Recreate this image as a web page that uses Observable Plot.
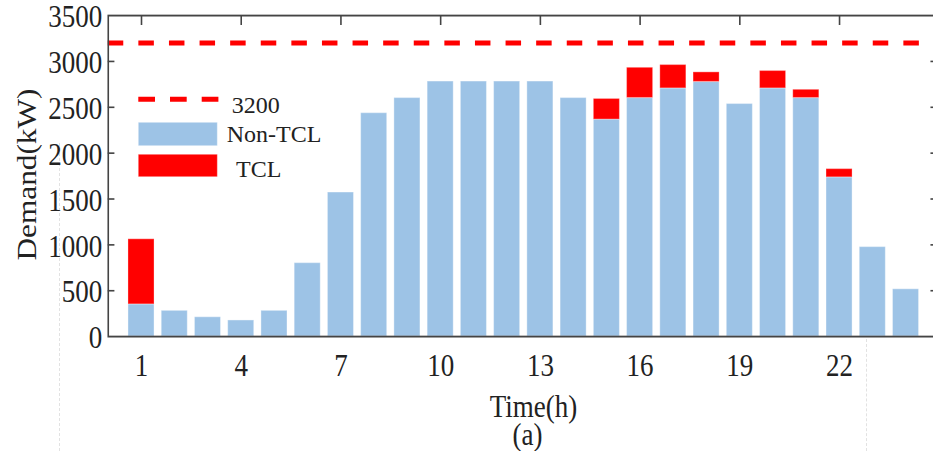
<!DOCTYPE html>
<html>
<head>
<meta charset="utf-8">
<script src="https://cdn.jsdelivr.net/npm/d3@7"></script>
<script src="https://cdn.jsdelivr.net/npm/@observablehq/plot@0.6"></script>
<style>
  html, body { margin: 0; padding: 0; background: #fff; overflow: hidden; }
  #wrap { position: relative; width: 933px; height: 451px; overflow: hidden; font-family: 'Liberation Serif', 'Times New Roman', serif; }
  #chart { position: absolute; left: 0; top: 0; }
  .vguide { position: absolute; width: 0; border-left: 1px dashed #e2e2e2; }
  #legend { position: absolute; left: 130px; top: 85px; }
</style>
</head>
<body>
<div id="wrap">
  <div class="vguide" style="left:59px; top:143px; height:308px;"></div>
  <div class="vguide" style="left:866px; top:339px; height:112px;"></div>
  <div id="chart"></div>
  <svg id="legend" width="200" height="100"></svg>
</div>
<script>
// ---- data ----
const hours = [1, 2, 3, 4, 5, 6, 7, 8, 9, 10, 11, 12, 13, 14, 15, 16, 17, 18, 19, 20, 21, 22, 23, 24];
const nonTCL = [350, 280, 210, 175, 280, 800, 1570, 2435, 2600, 2780, 2780, 2780, 2780, 2600, 2365, 2600, 2705, 2775, 2535, 2705, 2600, 1735, 975, 515];
const TCL =    [710,   0,   0,   0,   0,   0,    0,    0,    0,    0,    0,    0,    0,    0,  225,  330,  255,  105,    0,  190,   90,   90,   0,   0];
const limit = 3200;
const xTicks = [1, 4, 7, 10, 13, 16, 19, 22];
const yTicks = [0, 500, 1000, 1500, 2000, 2500, 3000, 3500];
const seriesNames = ["3200", "Non-TCL", "TCL"];
const xLabel = "Time(h)";
const yLabel = "Demand(kW)";
const caption = "(a)";

const data = hours.map((h, i) => ({hour: h, base: nonTCL[i], tcl: TCL[i]}));

const FONT = "'Liberation Serif', 'Times New Roman', serif";
const BLUE = "#9DC3E6";
const RED = "#FF0000";
const AX = "#444444";
const TXT = "#222222";
const S = 1.16; // vertical stretch of the reference picture

const plot = Plot.plot({
  width: 940,
  height: 390,
  marginLeft: 107.76,
  marginRight: 1.24,
  marginTop: 12.93,
  marginBottom: 100.34,
  style: {fontFamily: FONT, fontSize: "27px", color: TXT, background: "transparent", overflow: "visible"},
  x: {type: "linear", domain: [0, 25], axis: null},
  y: {domain: [0, 3500], axis: null},
  marks: [
    Plot.rectY(data, {
      x1: d => d.hour - 0.5, x2: d => d.hour + 0.5, y1: 0, y2: "base",
      insetLeft: 3.6, insetRight: 3.6,
      fill: BLUE, stroke: "white", strokeOpacity: 0.35, strokeWidth: 1
    }),
    Plot.rectY(data.filter(d => d.tcl > 0), {
      x1: d => d.hour - 0.5, x2: d => d.hour + 0.5, y1: "base", y2: d => d.base + d.tcl,
      insetLeft: 3.6, insetRight: 3.6,
      fill: RED, stroke: "white", strokeOpacity: 0.3, strokeWidth: 1
    }),
    Plot.ruleY([limit], {stroke: RED, strokeWidth: 4.3, strokeDasharray: "15.5,15.1"}),
    Plot.frame({stroke: AX, strokeWidth: 1.6}),
    // inward ticks
    Plot.ruleX(xTicks, {x: d => d, y1: 3500, y2: 3391, stroke: AX, strokeWidth: 1.6}),
    Plot.ruleY(yTicks.slice(1, -1), {y: d => d, x1: 0, x2: 0.2, stroke: AX, strokeWidth: 1.4}),
    Plot.ruleY(yTicks.slice(1, -1), {y: d => d, x1: 24.75, x2: 25, stroke: AX, strokeWidth: 1.4}),
    Plot.axisX({ticks: xTicks, tickSize: 0, tickPadding: 14.5, fontSize: 27, fill: TXT, label: null, tickFormat: d => String(d)}),
    Plot.axisY({ticks: yTicks, tickSize: 0, tickPadding: 6, dy: 1.5, fontSize: 27, fill: TXT, label: null, tickFormat: d => String(d)}),
    Plot.text([xLabel], {frameAnchor: "bottom", textAnchor: "middle", lineAnchor: "middle", dx: 9.7, dy: 60.4, fontSize: 27, fill: TXT}),
    Plot.text([caption], {frameAnchor: "bottom", textAnchor: "middle", lineAnchor: "middle", dx: 3.7, dy: 85, fontSize: 27, fill: TXT}),
    Plot.text([yLabel], {frameAnchor: "left", textAnchor: "middle", lineAnchor: "middle", rotate: -90, dx: -80.8, dy: -1.3, fontSize: 27, fill: TXT})
  ]
});
plot.style.maxWidth = "none";
plot.style.height = "390px";
plot.style.transform = `scaleY(${S})`;
plot.style.transformOrigin = "0 0";
document.getElementById("chart").appendChild(plot);

// ---- legend (inside the plot box, upper left) ----
const lg = d3.select("#legend");
lg.append("line").attr("x1", 8.3).attr("x2", 89.3).attr("y1", 14.2).attr("y2", 14.2)
  .attr("stroke", RED).attr("stroke-width", 5).attr("stroke-dasharray", "16.7,15");
lg.append("rect").attr("x", 8.3).attr("y", 37.3).attr("width", 79).attr("height", 23.4)
  .attr("fill", BLUE).attr("stroke", "white").attr("stroke-opacity", 0.35);
lg.append("rect").attr("x", 8.3).attr("y", 69.3).attr("width", 79).attr("height", 22.4)
  .attr("fill", RED).attr("stroke", "white").attr("stroke-opacity", 0.3);
const lt = [[seriesNames[0], 101.7, 28.3], [seriesNames[1], 96.7, 56.7], [seriesNames[2], 106, 91.7]];
lg.selectAll("text.l").data(lt).join("text").attr("class", "l")
  .attr("x", d => d[1]).attr("y", d => d[2]).text(d => d[0])
  .attr("font-family", FONT).attr("font-size", 24).attr("fill", TXT);
</script>
</body>
</html>
